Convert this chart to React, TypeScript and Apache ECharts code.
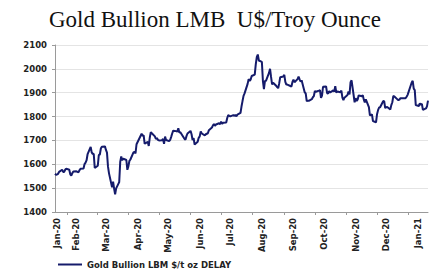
import React, { useEffect, useRef } from "react";
import * as echarts from "echarts";

const titleText = "Gold Bullion LMB  U$/Troy Ounce";
const seriesName = "Gold Bullion LBM $/t oz DELAY";
const startDate = "2020-01-20";
const endDate = "2021-01-20";
const monthNames = ["Jan", "Feb", "Mar", "Apr", "May", "Jun", "Jul", "Aug", "Sep", "Oct", "Nov", "Dec"];
const yTicks = [1400, 1500, 1600, 1700, 1800, 1900, 2000, 2100];

const priceDates = [
  "2020-01-20","2020-01-21","2020-01-22","2020-01-23","2020-01-24","2020-01-27","2020-01-28","2020-01-29","2020-01-30","2020-01-31",
  "2020-02-03","2020-02-04","2020-02-05","2020-02-06","2020-02-07","2020-02-10","2020-02-11","2020-02-12","2020-02-13","2020-02-14",
  "2020-02-17","2020-02-18","2020-02-19","2020-02-20","2020-02-21","2020-02-24","2020-02-25","2020-02-26","2020-02-27","2020-02-28",
  "2020-03-02","2020-03-03","2020-03-04","2020-03-05","2020-03-06","2020-03-09","2020-03-10","2020-03-11","2020-03-12","2020-03-13",
  "2020-03-16","2020-03-17","2020-03-18","2020-03-19","2020-03-20","2020-03-23","2020-03-24","2020-03-25","2020-03-26","2020-03-27",
  "2020-03-30","2020-03-31",
  "2020-04-01","2020-04-02","2020-04-03","2020-04-06","2020-04-07","2020-04-08","2020-04-09","2020-04-14","2020-04-15","2020-04-16",
  "2020-04-17","2020-04-20","2020-04-21","2020-04-22","2020-04-23","2020-04-24","2020-04-27","2020-04-28","2020-04-29","2020-04-30",
  "2020-05-01","2020-05-04","2020-05-05","2020-05-06","2020-05-07","2020-05-08","2020-05-11","2020-05-12","2020-05-13","2020-05-14",
  "2020-05-15","2020-05-18","2020-05-19","2020-05-20","2020-05-21","2020-05-22","2020-05-26","2020-05-27","2020-05-28","2020-05-29",
  "2020-06-01","2020-06-02","2020-06-03","2020-06-04","2020-06-05","2020-06-08","2020-06-09","2020-06-10","2020-06-11","2020-06-12",
  "2020-06-15","2020-06-16","2020-06-17","2020-06-18","2020-06-19","2020-06-22","2020-06-23","2020-06-24","2020-06-25","2020-06-26",
  "2020-06-29","2020-06-30",
  "2020-07-01","2020-07-02","2020-07-03","2020-07-06","2020-07-07","2020-07-08","2020-07-09","2020-07-10","2020-07-13","2020-07-14",
  "2020-07-15","2020-07-16","2020-07-17","2020-07-20","2020-07-21","2020-07-22","2020-07-23","2020-07-24","2020-07-27","2020-07-28",
  "2020-07-29","2020-07-30","2020-07-31",
  "2020-08-03","2020-08-04","2020-08-05","2020-08-06","2020-08-07","2020-08-10","2020-08-11","2020-08-12","2020-08-13","2020-08-14",
  "2020-08-17","2020-08-18","2020-08-19","2020-08-20","2020-08-21","2020-08-24","2020-08-25","2020-08-26","2020-08-27","2020-08-28",
  "2020-08-31",
  "2020-09-01","2020-09-02","2020-09-03","2020-09-04","2020-09-08","2020-09-09","2020-09-10","2020-09-11","2020-09-14","2020-09-15",
  "2020-09-16","2020-09-17","2020-09-18","2020-09-21","2020-09-22","2020-09-23","2020-09-24","2020-09-25","2020-09-28","2020-09-29",
  "2020-09-30",
  "2020-10-01","2020-10-02","2020-10-05","2020-10-06","2020-10-07","2020-10-08","2020-10-09","2020-10-12","2020-10-13","2020-10-14",
  "2020-10-15","2020-10-16","2020-10-19","2020-10-20","2020-10-21","2020-10-22","2020-10-23","2020-10-26","2020-10-27","2020-10-28",
  "2020-10-29","2020-10-30",
  "2020-11-02","2020-11-03","2020-11-04","2020-11-05","2020-11-06","2020-11-09","2020-11-10","2020-11-11","2020-11-12","2020-11-13",
  "2020-11-16","2020-11-17","2020-11-18","2020-11-19","2020-11-20","2020-11-23","2020-11-24","2020-11-25","2020-11-26","2020-11-27",
  "2020-11-30",
  "2020-12-01","2020-12-02","2020-12-03","2020-12-04","2020-12-07","2020-12-08","2020-12-09","2020-12-10","2020-12-11","2020-12-14",
  "2020-12-15","2020-12-16","2020-12-17","2020-12-18","2020-12-21","2020-12-22","2020-12-23","2020-12-24","2020-12-29","2020-12-30",
  "2020-12-31",
  "2021-01-04","2021-01-05","2021-01-06","2021-01-07","2021-01-08","2021-01-11","2021-01-12","2021-01-13","2021-01-14","2021-01-15",
  "2021-01-18","2021-01-19","2021-01-20",
];

const prices = [
  1560,1556,1557,1560,1568,1577,1568,1568,1577,1582,
  1577,1558,1553,1563,1570,1571,1568,1566,1575,1581,
  1582,1601,1607,1617,1643,1673,1650,1643,1644,1585,
  1594,1639,1641,1666,1674,1675,1660,1649,1590,1562,
  1504,1527,1498,1474,1499,1525,1610,1633,1617,1624,
  1618,1577,
  1591,1614,1620,1650,1652,1646,1684,1728,1720,1721,
  1686,1694,1677,1712,1735,1730,1717,1706,1711,1702,
  1700,1701,1706,1686,1716,1702,1697,1702,1715,1729,
  1741,1739,1737,1751,1733,1734,1707,1703,1718,1729,
  1740,1726,1701,1710,1683,1694,1711,1717,1738,1729,
  1721,1726,1728,1730,1743,1754,1763,1769,1761,1767,
  1772,1768,
  1779,1769,1774,1775,1794,1806,1803,1801,1806,1803,
  1807,1801,1808,1815,1842,1865,1887,1897,1937,1957,
  1950,1955,1970,
  1976,2019,2049,2060,2035,2029,1950,1915,1949,1950,
  1983,2000,1966,1935,1942,1929,1924,1919,1939,1965,
  1968,
  1975,1945,1934,1934,1926,1945,1955,1944,1957,1968,
  1956,1947,1952,1902,1897,1865,1866,1866,1873,1881,
  1886,
  1907,1904,1909,1911,1878,1888,1925,1926,1898,1897,
  1907,1901,1910,1905,1927,1901,1905,1902,1909,1879,
  1869,1879,
  1890,1905,1893,1944,1952,1860,1877,1865,1872,1889,
  1885,1890,1871,1859,1872,1840,1805,1806,1809,1781,
  1776,
  1810,1827,1838,1839,1864,1865,1836,1839,1840,1830,
  1848,1860,1887,1884,1872,1869,1871,1877,1877,1883,
  1891,
  1943,1950,1917,1911,1848,1844,1856,1850,1853,1828,
  1834,1843,1867,
];

function buildDays(start: string, end: string): string[] {
  const out: string[] = [];
  const d = new Date(start + "T00:00:00Z");
  const e = new Date(end + "T00:00:00Z");
  while (d.getTime() <= e.getTime()) {
    out.push(d.toISOString().slice(0, 10));
    d.setUTCDate(d.getUTCDate() + 1);
  }
  return out;
}

const labelFont = "'DejaVu Sans', Verdana, sans-serif";

export default function App() {
  const ref = useRef<HTMLDivElement>(null);
  useEffect(() => {
    if (!ref.current) return;
    const chart = echarts.init(ref.current, null, { renderer: "svg" });
    const days = buildDays(startDate, endDate);
    const priceMap: Record<string, number> = {};
    priceDates.forEach((d, i) => (priceMap[d] = prices[i]));
    const values = days.map((d) => (d in priceMap ? priceMap[d] : null));
    const dayOf = (v: string) => parseInt(v.slice(8, 10), 10);
    const fmt = (v: string) => monthNames[parseInt(v.slice(5, 7), 10) - 1] + "-" + v.slice(2, 4);

    chart.setOption({
      animation: false,
      backgroundColor: "#ffffff",
      title: {
        text: titleText,
        left: "center",
        top: 3,
        textStyle: {
          fontFamily: "'Liberation Serif', 'Times New Roman', serif",
          fontWeight: "normal",
          fontSize: 23,
          color: "#111",
        },
      },
      legend: {
        left: 53,
        top: 255,
        icon: "rect",
        itemWidth: 24,
        itemHeight: 2,
        itemGap: 6,
        textStyle: { fontFamily: labelFont, fontWeight: "bold", fontSize: 8.5, color: "#222" },
        data: [seriesName],
      },
      grid: { left: 55, right: 2, top: 45, bottom: 63 },
      xAxis: {
        type: "category",
        data: days,
        boundaryGap: false,
        axisLine: { lineStyle: { color: "#9a9a9a", width: 1 } },
        axisTick: {
          show: true,
          length: 3,
          interval: (index: number, value: string) => dayOf(value) === 1,
          lineStyle: { color: "#9a9a9a" },
        },
        axisLabel: {
          rotate: 90,
          margin: 6,
          interval: (index: number, value: string) => index === 2 || dayOf(value) === 10,
          formatter: (v: string) => fmt(v),
          fontFamily: labelFont,
          fontWeight: "bold",
          fontSize: 8.5,
          color: "#222",
        },
        splitLine: { show: false },
      },
      yAxis: {
        type: "value",
        min: yTicks[0],
        max: yTicks[yTicks.length - 1],
        interval: 100,
        axisLine: { show: true, lineStyle: { color: "#9a9a9a" } },
        axisTick: { show: true, length: 3, lineStyle: { color: "#9a9a9a" } },
        axisLabel: {
          margin: 8,
          formatter: (v: number) => String(v),
          fontFamily: labelFont,
          fontWeight: "bold",
          fontSize: 8.5,
          color: "#222",
        },
        splitLine: { show: true, lineStyle: { color: "#e4e4e4", width: 1 } },
      },
      series: [
        {
          name: seriesName,
          type: "line",
          data: values,
          connectNulls: true,
          showSymbol: false,
          symbol: "none",
          lineStyle: { color: "#151b6b", width: 2 },
          itemStyle: { color: "#151b6b" },
        },
      ],
    });
    return () => chart.dispose();
  }, []);
  return <div ref={ref} style={{ width: 430, height: 275, position: "absolute", left: 0, top: 0 }} />;
}
